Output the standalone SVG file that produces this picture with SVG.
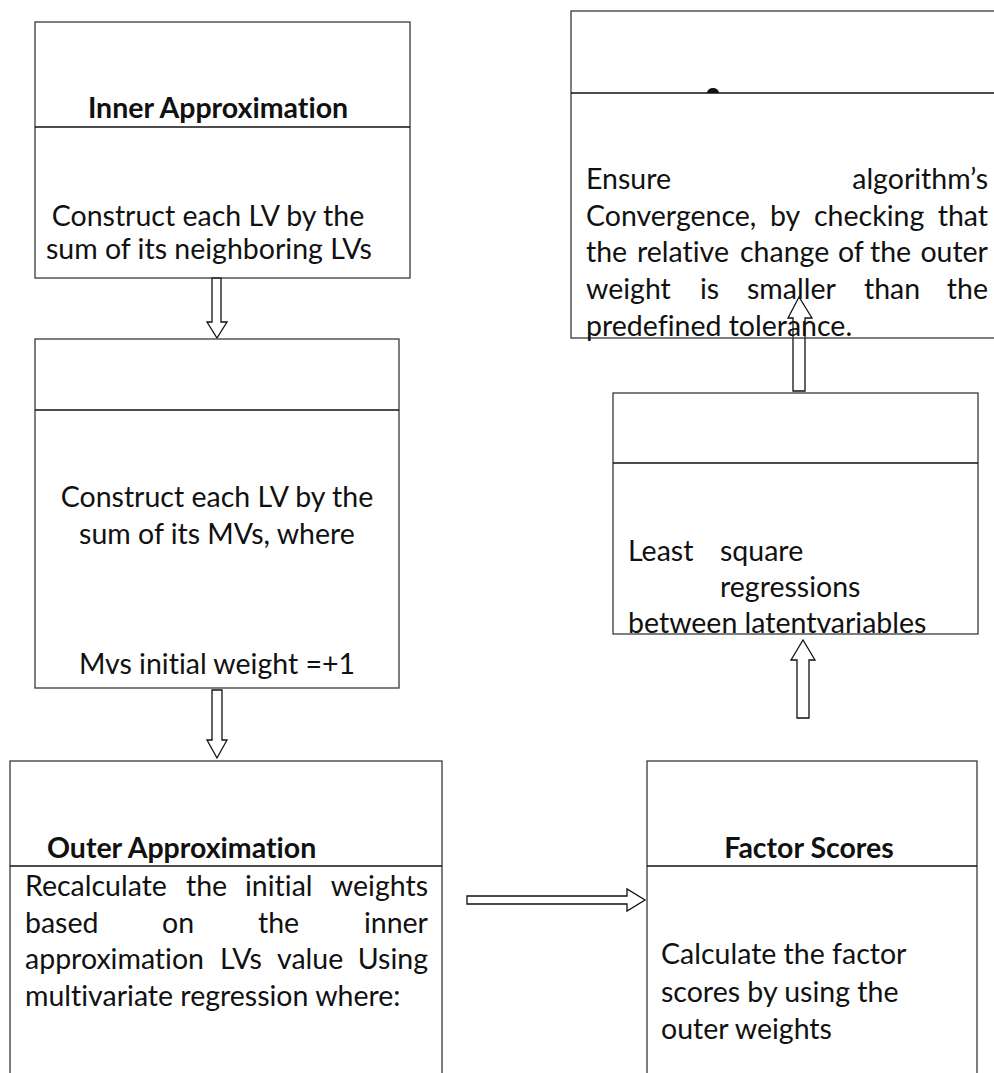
<svg xmlns="http://www.w3.org/2000/svg" width="994" height="1073" viewBox="0 0 994 1073">
<style>
.box{fill:none;stroke:#3a3a3a;stroke-width:1.3}
.div{stroke:#111;stroke-width:1.3}
.arr{fill:#fff;stroke:#111;stroke-width:1.3;stroke-linejoin:miter}
text{font-family:Lato,"Liberation Sans",sans-serif;font-size:28.5px;fill:#111;font-variant-ligatures:none}
.t{font-weight:bold}
.c{text-anchor:middle}
</style>
<rect width="994" height="1073" fill="#fff"/>
<g id="connectors">
<polygon class="arr" points="212,278 221,278 221,322 227,322 217,338 207,322 212,322"/>
<polygon class="arr" points="212,690 222,690 222,740 227,740 217,758 207,740 212,740"/>
<polygon class="arr" points="467,896 627,896 627,889 645,900 627,911 627,904 467,904"/>
<polygon class="arr" points="797,718 809,718 809,660 815,660 803,640 791,660 797,660"/>
<polygon class="arr" points="793,391 805,391 805,318 812,318 799,297 788,318 793,318"/>
</g>
<g id="inner">
<rect class="box" x="35" y="22" width="375" height="256"/>
<line class="div" x1="35" y1="127" x2="410" y2="127"/>
<text class="t c" x="218" y="118">Inner Approximation</text>
<text class="c" x="208" y="226">Construct each LV by the</text>
<text class="c" x="209" y="259">sum of its neighboring LVs</text>
</g>
<g id="initial">
<rect class="box" x="35" y="339" width="364" height="349"/>
<line class="div" x1="35" y1="410" x2="399" y2="410"/>
<text class="c" x="217" y="507">Construct each LV by the</text>
<text class="c" x="217" y="544">sum of its MVs, where</text>
<text class="c" x="217" y="674">Mvs initial weight =+1</text>
</g>
<g id="outer">
<rect class="box" x="10" y="761" width="432" height="330"/>
<line class="div" x1="10" y1="866" x2="442" y2="866"/>
<text class="t" x="47" y="858">Outer Approximation</text>
<text y="896"><tspan x="25">Recalculate</tspan><tspan x="186">the</tspan><tspan x="245">initial</tspan><tspan x="428" text-anchor="end">weights</tspan></text>
<text y="933"><tspan x="25">based</tspan><tspan x="162">on</tspan><tspan x="258">the</tspan><tspan x="428" text-anchor="end">inner</tspan></text>
<text y="969"><tspan x="25">approximation</tspan><tspan x="220">LVs</tspan><tspan x="277">value</tspan><tspan x="428" text-anchor="end">Using</tspan></text>
<text x="25" y="1006">multivariate regression where:</text>
</g>
<g id="factor">
<rect class="box" x="647" y="761" width="330" height="330"/>
<line class="div" x1="647" y1="866" x2="977" y2="866"/>
<text class="t c" x="809" y="858">Factor Scores</text>
<text x="661" y="964">Calculate the factor</text>
<text x="661" y="1002">scores by using the</text>
<text x="661" y="1039">outer weights</text>
</g>
<g id="regression">
<rect class="box" x="613" y="393" width="365" height="241"/>
<line class="div" x1="613" y1="463" x2="978" y2="463"/>
<text x="628" y="561">Least</text>
<text x="720" y="561">square</text>
<text x="720" y="597">regressions</text>
<text x="628" y="633">between latentvariables</text>
</g>
<g id="convergence">
<rect class="box" x="571" y="11" width="440" height="327"/>
<line class="div" x1="571" y1="93" x2="994" y2="93"/>
<path d="M707,93 A6,5 0 0 1 719,93 Z" fill="#111"/>
<text y="189"><tspan x="586">Ensure</tspan><tspan x="988" text-anchor="end">algorithm’s</tspan></text>
<text y="226"><tspan x="586">Convergence,</tspan><tspan x="770">by</tspan><tspan x="814">checking</tspan><tspan x="988" text-anchor="end">that</tspan></text>
<text y="262"><tspan x="586">the</tspan><tspan x="637">relative</tspan><tspan x="740">change</tspan><tspan x="838">of</tspan><tspan x="870">the</tspan><tspan x="988" text-anchor="end">outer</tspan></text>
<text y="299"><tspan x="586">weight</tspan><tspan x="700">is</tspan><tspan x="747">smaller</tspan><tspan x="864">than</tspan><tspan x="988" text-anchor="end">the</tspan></text>
<text x="586" y="336">predefined tolerance.</text>
</g>
</svg>
